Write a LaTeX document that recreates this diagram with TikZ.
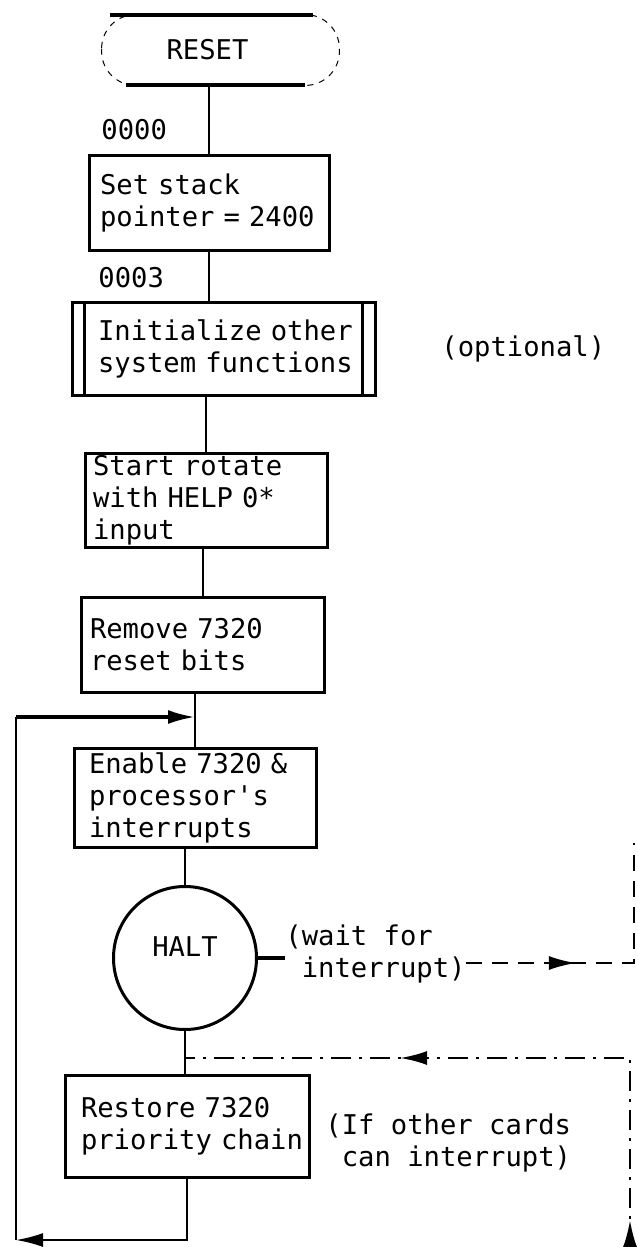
\documentclass[tikz,border=0pt]{standalone}
\usepackage{fontspec}
\setmonofont[WordSpace={1,0,0}]{DejaVu Sans Mono}
\usetikzlibrary{arrows.meta,decorations.markings}
\begin{document}
\begin{tikzpicture}[x=0.5pt,y=-0.5pt,
  every node/.style={font=\ttfamily\fontsize{13.6}{16}\selectfont},
  fbox/.style={draw, line width=1.5pt, align=left, inner ysep=0pt},
  lbl/.style={inner sep=0pt, align=left},
  conn/.style={line width=1pt},
  tip/.style={-{Latex[length=13.5pt,width=7pt]}},
  dline/.style={line width=1.2pt, dash pattern=on 8pt off 5pt},
  dline2/.style={line width=1.2pt, dash pattern=on 10pt off 4pt on 1.5pt off 4pt}]
\useasboundingbox (0,0) rectangle (637,1247);
\fill[white] (0,0) rectangle (637,1247);

% RESET terminal
\node[minimum width=118.5pt, minimum height=35pt, inner sep=0pt] (reset) at (220.5,50) {\hspace*{-13pt}RESET};
\draw[line width=0.5pt, dash pattern=on 3pt off 3pt, rounded corners=17pt] (reset.north west) rectangle (reset.south east);
\draw[line width=2pt] ([xshift=4pt]reset.north west) -- ([xshift=-13pt]reset.north east);
\draw[line width=2pt] ([xshift=12pt]reset.south west) -- ([xshift=-17pt]reset.south east);

% boxes
\node[lbl, anchor=base west] (a0) at (101,140) {0000};
\node[fbox, minimum height=47.5pt, text width=109pt, inner xsep=5.5pt] (b1) at (209,202.5) {\mbox{Set stack}\\\mbox{pointer = 2400}};
\node[lbl, anchor=base west] (a3) at (98,287) {0003};
\node[fbox, minimum height=46.5pt, text width=125.5pt, inner xsep=13pt] (b2) at (223.5,348.5) {\mbox{Initialize other}\\\mbox{system functions}};
\draw[line width=1.5pt] ([xshift=7pt]b2.north west) -- ([xshift=7pt]b2.south west);
\draw[line width=1.5pt] ([xshift=-7pt]b2.north east) -- ([xshift=-7pt]b2.south east);
\node[lbl, anchor=base west] (opt) at (441,356) {(optional)};
\node[fbox, minimum height=47pt, text width=113pt, inner xsep=4pt] (b3) at (206,500) {\mbox{Start rotate}\\\mbox{with HELP 0*}\\\mbox{input}};
\node[fbox, minimum height=47.5pt, text width=112.5pt, inner xsep=4.5pt] (b4) at (202.5,644.5) {\mbox{Remove 7320}\\\mbox{reset bits}};
\node[fbox, minimum height=49.5pt, text width=106pt, inner xsep=7.5pt] (b5) at (195,797.5) {\mbox{Enable 7320 \&}\\\mbox{processor's}\\\mbox{interrupts}};
\node[draw, circle, line width=1.5pt, minimum size=71.5pt, inner sep=0pt] (halt) at (185,958) {\raisebox{11pt}{HALT}};
\node[lbl, anchor=north west] (wait) at (285,924) {\mbox{(wait for}\\\mbox{ interrupt)}};
\node[fbox, minimum height=51pt, text width=106pt, inner xsep=8pt] (b6) at (187,1126) {\mbox{Restore 7320}\\\mbox{priority chain}};
\node[lbl, anchor=north west] (ifo) at (325,1113) {\mbox{(If other cards}\\\mbox{ can interrupt)}};

% main flow
\draw[conn] (b1.north |- reset.south) -- (b1.north);
\draw[conn] (b1.south) -- (b1.south |- b2.north);
\draw[conn] (b3.north |- b2.south) -- (b3.north);
\draw[conn] (b4.north |- b3.south) -- (b4.north);
\draw[conn] (b5.north |- b4.south) -- (b5.north);
\draw[conn] (halt.north |- b5.south) -- (halt.north);
\draw[conn] (halt.south) -- (halt.south |- b6.north);

% loop back
\coordinate (bl) at (16,1240);
\coordinate (tl) at (20,717);
\draw[conn, tip] (b6.south) |- (bl);
\draw[conn] (bl) -- (bl |- tl);
\draw[line width=1.6pt, tip] (bl |- tl) -- (b5.north |- tl);

% wait for interrupt
\coordinate (wr) at (634,963);
\coordinate (wt) at (634,843);
\draw[line width=1.6pt] (halt.east) -- (halt.east -| wait.west);
\draw[dline, postaction={decorate}, decoration={markings, mark=at position 55pt with {\arrow{Latex[length=13.5pt,width=7pt]}}}] (wait.east |- wr) -- (wr) -- (wt);

% other cards interrupt
\coordinate (br) at (630,1247);
\coordinate (bc) at (630,1058);
\draw[dline2, postaction={decorate}, decoration={markings,
   mark=at position 13.5pt with {\arrow{Latex[length=13.5pt,width=7pt]}},
   mark=at position 209.5pt with {\arrow{Latex[length=13.5pt,width=7pt]}}}] (br) -- (bc) -- (halt.south |- bc);
\end{tikzpicture}
\end{document}
